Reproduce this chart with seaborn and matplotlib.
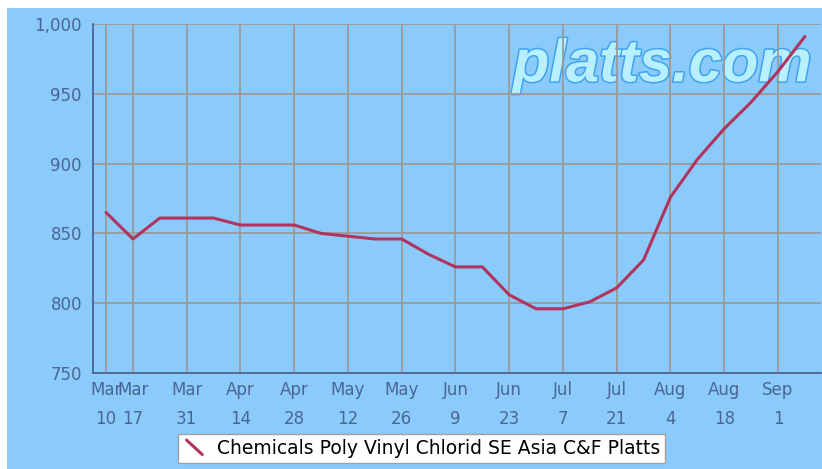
import matplotlib
matplotlib.use("Agg")
import matplotlib.pyplot as plt
import matplotlib.patheffects as pe
from matplotlib.legend_handler import HandlerLine2D
from matplotlib.lines import Line2D
from matplotlib.patches import Rectangle
import pandas as pd
import seaborn as sns

# weekly assessments, USD/mt
dates = ["2007-03-10", "2007-03-17", "2007-03-24", "2007-03-31", "2007-04-07",
         "2007-04-14", "2007-04-21", "2007-04-28", "2007-05-05", "2007-05-12",
         "2007-05-19", "2007-05-26", "2007-06-02", "2007-06-09", "2007-06-16",
         "2007-06-23", "2007-06-30", "2007-07-07", "2007-07-14", "2007-07-21",
         "2007-07-28", "2007-08-04", "2007-08-11", "2007-08-18", "2007-08-25",
         "2007-09-01", "2007-09-08"]
prices = [865, 846, 861, 861, 861, 856, 856, 856, 850, 848, 846, 846, 835, 826,
          826, 806, 796, 796, 801, 811, 831, 876, 903, 925, 944, 966, 991]
tick_dates = ["2007-03-10", "2007-03-17", "2007-03-31", "2007-04-14", "2007-04-28",
              "2007-05-12", "2007-05-26", "2007-06-09", "2007-06-23", "2007-07-07",
              "2007-07-21", "2007-08-04", "2007-08-18", "2007-09-01"]
series_name = "Chemicals Poly Vinyl Chlorid SE Asia C&F Platts"

BG = "#8BCBFB"
AXC = "#4A6593"
LINE = "#B0345E"

df = pd.DataFrame({"date": pd.to_datetime(dates), "price": prices})

sns.set_theme(style="white")
plt.rcParams["font.family"] = ["DejaVu Sans"]

fig = plt.figure(figsize=(8.22, 4.69), dpi=100, facecolor="white")
fig.patches.append(Rectangle((7 / 822, 0), 1, 1 - 8 / 469, transform=fig.transFigure,
                             facecolor=BG, edgecolor="none", zorder=-10))
ax = fig.add_axes([93 / 822, 1 - 373 / 469, 728 / 822, 349 / 469])
ax.set_facecolor(BG)

# watermark
ax.text(0.782, 0.88, "platts.com", transform=ax.transAxes, ha="center", va="center",
        fontsize=43, fontweight="bold", fontstyle="italic", color="#B8F0FF",
        family="Liberation Sans",
        path_effects=[pe.withStroke(linewidth=2.2, foreground="#3FA3F0")], zorder=0.5)

sns.lineplot(data=df, x="date", y="price", ax=ax, color=LINE, linewidth=2.2,
             legend=False, zorder=3)

ax.set_ylim(750, 1000)
ax.set_yticks([750, 800, 850, 900, 950, 1000])
ax.set_yticklabels(["750", "800", "850", "900", "950", "1,000"])
ax.set_xlim(pd.Timestamp("2007-03-10") - pd.Timedelta(days=3.4),
            pd.Timestamp("2007-09-08") + pd.Timedelta(days=4.2))
ticks = pd.to_datetime(tick_dates)
ax.set_xticks(ticks)
ax.set_xticklabels([f"{d:%b}\n{d.day}" for d in ticks], linespacing=1.75)

ax.grid(True, color="#9A9A9A", linewidth=1.3)
ax.set_axisbelow(True)
for s in ["top", "right"]:
    ax.spines[s].set_visible(False)
for s in ["left", "bottom"]:
    ax.spines[s].set_color(AXC)
    ax.spines[s].set_linewidth(1.3)
ax.tick_params(axis="both", colors=AXC, labelcolor=AXC, labelsize=12,
               length=6, width=1.3, direction="out")
ax.tick_params(axis="x", pad=0)
ax.tick_params(axis="y", pad=2)
ax.set_xlabel("")
ax.set_ylabel("")


class DiagHandler(HandlerLine2D):
    def create_artists(self, legend, orig_handle, xdescent, ydescent, width, height,
                       fontsize, trans):
        ln = Line2D([xdescent + width * 0.15, xdescent + width * 0.85],
                    [ydescent + height * 1.05, ydescent - height * 0.05],
                    color=orig_handle.get_color(), linewidth=2.2, transform=trans)
        return [ln]


h = Line2D([0], [0], color=LINE, linewidth=2.2)
leg = fig.legend([h], [series_name], loc="center", bbox_to_anchor=(0.513, 0.044),
                 handler_map={Line2D: DiagHandler()}, handlelength=1.2,
                 handletextpad=0.6, fontsize=13.5, frameon=True, fancybox=False,
                 framealpha=1, edgecolor="#A0A0A0", borderpad=0.25, borderaxespad=0)
leg.get_frame().set_linewidth(1.0)
for t in leg.get_texts():
    t.set_color("black")

fig.savefig("out.png", dpi=100, facecolor="white")
